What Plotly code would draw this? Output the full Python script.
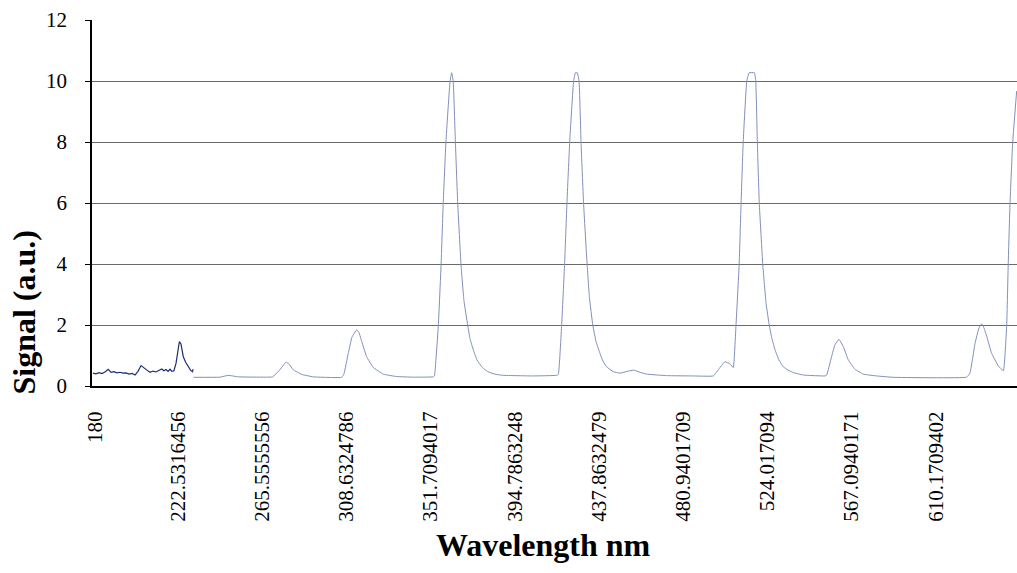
import plotly.graph_objects as go

# Segment 1 (noisy, dark trace) — wavelength (nm) and signal (a.u.)
wl_seg1 = [180.0, 181.5, 183.1, 184.6, 186.1, 187.8, 189.2, 190.7, 192.3, 193.8,
           195.3, 196.9, 198.4, 200.0, 201.5, 203.0, 204.6, 206.1, 207.6, 209.2,
           210.7, 212.2, 213.8, 215.2, 216.3, 217.4, 218.4, 219.4, 220.4, 221.4,
           222.5, 223.2, 224.2, 225.0, 226.2, 227.4, 228.8, 229.9, 230.9, 231.2]
sig_seg1 = [0.42, 0.40, 0.44, 0.41, 0.46, 0.55, 0.45, 0.47, 0.43, 0.45,
            0.42, 0.43, 0.39, 0.41, 0.36, 0.48, 0.67, 0.58, 0.52, 0.45,
            0.49, 0.46, 0.50, 0.56, 0.50, 0.54, 0.48, 0.55, 0.48, 0.50,
            0.75, 1.10, 1.46, 1.38, 0.96, 0.78, 0.63, 0.52, 0.47, 0.55]

# Segment 2 (smooth, light trace)
wl_seg2 = [231.4, 245.0, 249.2, 254.3, 268.0, 271.9, 275.2, 278.7, 280.3, 282.5,
           286.8, 292.7, 307.3, 308.4, 310.6, 312.5, 314.9, 316.1, 317.5, 320.0,
           323.4, 328.5, 335.4, 343.9, 354.1, 354.7, 356.7, 358.1, 359.2, 360.6,
           362.7, 363.5, 364.3, 365.4, 366.6, 368.3, 369.8, 371.7, 372.9, 374.6,
           376.5, 378.9, 380.8, 383.1, 386.2, 389.9, 405.3, 417.3, 418.1, 419.8,
           421.3, 422.5, 423.9, 425.9, 426.8, 427.8, 428.7, 429.7, 431.0, 432.8,
           434.0, 435.7, 437.4, 439.4, 440.9, 442.8, 446.2, 449.6, 452.7, 456.5,
           459.9, 463.3, 473.5, 487.2, 497.4, 500.5, 503.4, 506.0, 507.6, 509.0,
           510.6, 511.6, 512.7, 514.5, 515.7, 518.4, 519.1, 519.9, 520.9, 522.7,
           524.4, 526.0, 527.4, 529.0, 531.0, 533.2, 535.6, 538.3, 543.4, 554.5,
           555.4, 557.9, 559.6, 561.7, 563.9, 566.5, 569.9, 574.1, 581.0, 589.5,
           627.0, 628.7, 631.3, 633.3, 634.7, 635.9, 637.3, 639.8, 643.2, 645.8,
           647.5, 648.3, 649.2, 650.6, 652.6]
sig_seg2 = [0.285, 0.29, 0.35, 0.30, 0.29, 0.30, 0.50, 0.78, 0.72, 0.53,
            0.38, 0.30, 0.285, 0.40, 1.07, 1.60, 1.84, 1.75, 1.46, 0.96,
            0.61, 0.39, 0.31, 0.29, 0.30, 0.33, 2.00, 3.97, 6.00, 8.03,
            10.00, 10.27, 10.00, 8.03, 6.00, 3.97, 2.80, 2.00, 1.55, 1.18,
            0.85, 0.63, 0.52, 0.44, 0.38, 0.35, 0.33, 0.35, 0.38, 2.00,
            4.00, 6.00, 8.00, 10.00, 10.27, 10.27, 10.00, 8.00, 6.00, 4.00,
            2.90, 2.00, 1.45, 1.07, 0.82, 0.63, 0.47, 0.42, 0.47, 0.52,
            0.45, 0.39, 0.34, 0.33, 0.33, 0.58, 0.80, 0.72, 0.60, 2.00,
            3.97, 6.00, 8.03, 10.00, 10.27, 10.27, 10.00, 8.03, 6.00, 3.97,
            2.70, 2.00, 1.55, 1.18, 0.85, 0.63, 0.52, 0.44, 0.36, 0.33,
            0.36, 0.96, 1.35, 1.53, 1.29, 0.85, 0.55, 0.39, 0.33, 0.285,
            0.29, 0.42, 1.40, 1.90, 2.04, 1.90, 1.62, 1.07, 0.66, 0.50,
            2.00, 4.03, 6.00, 8.03, 9.67]

tick_labels = ["180", "222.5316456", "265.5555556", "308.6324786", "351.7094017",
               "394.7863248", "437.8632479", "480.9401709", "524.017094",
               "567.0940171", "610.1709402"]
tick_vals = [float(t) for t in tick_labels]
y_ticks = [0, 2, 4, 6, 8, 10, 12]

FONT = "Liberation Serif, Times New Roman, serif"

fig = go.Figure()
fig.add_trace(go.Scatter(x=wl_seg1, y=sig_seg1, mode="lines",
                         line=dict(color="#1b2f72", width=1.2), showlegend=False))
fig.add_trace(go.Scatter(x=wl_seg2, y=sig_seg2, mode="lines",
                         line=dict(color="#7f90ba", width=1, shape="spline", smoothing=0.3),
                         showlegend=False))

fig.update_layout(
    width=1017, height=573,
    margin=dict(l=92, r=0, t=20, b=187),
    paper_bgcolor="white", plot_bgcolor="white",
    font=dict(family=FONT, color="black"),
    xaxis=dict(range=[179.49, 652.77], tickmode="array", tickvals=tick_vals,
               ticktext=tick_labels, tickangle=-90, showgrid=False, zeroline=False,
               showline=True, linecolor="black", linewidth=2,
               ticks="", ticklabelstandoff=15, ticklabelshift=2,
               tickfont=dict(family=FONT, size=21, color="black")),
    yaxis=dict(range=[0, 12], tickmode="array", tickvals=y_ticks,
               showgrid=True, gridcolor="#6a6a6a", gridwidth=1, zeroline=False,
               showline=True, linecolor="black", linewidth=1.5,
               ticks="outside", ticklen=5, tickcolor="black", tickwidth=1,
               ticklabelstandoff=14,
               tickfont=dict(family=FONT, size=21, color="black")),
    annotations=[
        dict(text="<b>Signal (a.u.)</b>", xref="paper", yref="paper",
             x=-0.074, y=0.1995, xanchor="center", yanchor="middle",
             textangle=-90, showarrow=False,
             font=dict(family=FONT, size=32, color="black")),
        dict(text="<b>Wavelength nm</b>", xref="paper", yref="paper",
             x=0.4886, y=-0.4344, xanchor="center", yanchor="middle",
             showarrow=False, font=dict(family=FONT, size=32, color="black")),
    ],
)

fig.write_html("out.html")
